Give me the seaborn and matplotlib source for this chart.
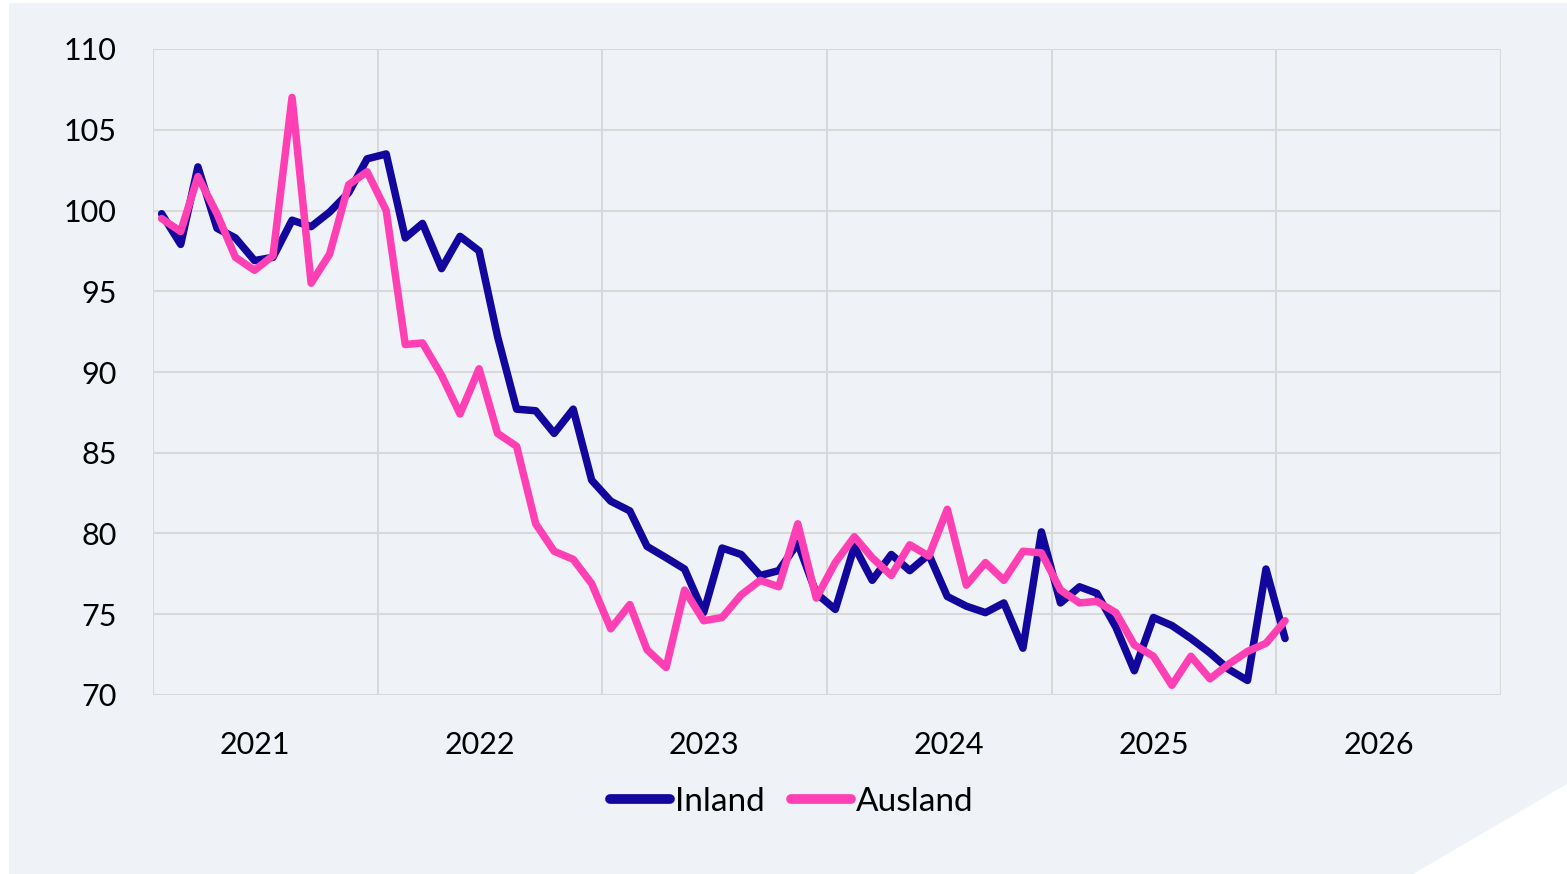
import numpy as np
import pandas as pd
import matplotlib
matplotlib.use("Agg")
import matplotlib.pyplot as plt
from matplotlib.patches import Polygon
import seaborn as sns

# ---- data ----
months = pd.date_range("2021-01-01", periods=61, freq="MS") + pd.Timedelta(days=14)
inland = [99.8, 97.9, 102.7, 98.9, 98.3, 96.9, 97.1, 99.4, 99.0, 99.9, 101.1, 103.2,
          103.5, 98.3, 99.2, 96.4, 98.4, 97.5, 92.2, 87.7, 87.6, 86.2, 87.7, 83.3,
          82.0, 81.4, 79.2, 78.5, 77.8, 75.1, 79.1, 78.7, 77.4, 77.7, 79.4, 76.3,
          75.3, 79.2, 77.1, 78.7, 77.7, 78.7, 76.1, 75.5, 75.1, 75.7, 72.9, 80.1,
          75.7, 76.7, 76.3, 74.2, 71.5, 74.8, 74.3, 73.5, 72.6, 71.6, 70.9, 77.8,
          73.5]
ausland = [99.5, 98.7, 102.1, 99.8, 97.1, 96.3, 97.2, 107.0, 95.5, 97.3, 101.6, 102.4,
           100.0, 91.7, 91.8, 89.8, 87.4, 90.2, 86.2, 85.4, 80.6, 78.9, 78.4, 76.9,
           74.1, 75.6, 72.8, 71.7, 76.5, 74.6, 74.8, 76.2, 77.1, 76.7, 80.6, 76.0,
           78.2, 79.8, 78.5, 77.4, 79.3, 78.6, 81.5, 76.8, 78.2, 77.1, 78.9, 78.8,
           76.5, 75.7, 75.8, 75.1, 73.1, 72.4, 70.6, 72.4, 71.0, 71.9, 72.7, 73.2,
           74.6]
series_names = ["Inland", "Ausland"]
year_labels = ["2021", "2022", "2023", "2024", "2025", "2026"]
y_ticks = [70, 75, 80, 85, 90, 95, 100, 105, 110]

df = pd.DataFrame({
    "Datum": list(months) * 2,
    "Wert": inland + ausland,
    "Serie": [series_names[0]] * len(inland) + [series_names[1]] * len(ausland),
})

# ---- style ----
sns.set_theme(style="white")
plt.rcParams["font.family"] = ["Lato", "DejaVu Sans"]
plt.rcParams["text.color"] = "black"

W, H = 1567, 874
fig = plt.figure(figsize=(W / 100, H / 100), dpi=100, facecolor="white")
panel = "#eff3f8"
fig.patches.append(Polygon(
    [(9 / W, 0), (9 / W, 1 - 3 / H), (1, 1 - 3 / H), (1, 1 - 784 / H), (1413 / W, 0)],
    closed=True, transform=fig.transFigure, facecolor=panel, edgecolor="none", zorder=-10))

ax = fig.add_axes([153 / W, (H - 695) / H, (1501 - 153) / W, (695 - 49) / H])
ax.set_facecolor("none")
ax.set_zorder(5)

palette = {"Inland": "#12069c", "Ausland": "#ff3fb4"}
sns.lineplot(data=df, x="Datum", y="Wert", hue="Serie", palette=palette,
             linewidth=5.4, ax=ax, legend=True,
             solid_joinstyle="round", solid_capstyle="round")

ax.set_xlim(pd.Timestamp("2021-01-01"), pd.Timestamp("2027-01-01"))
ax.set_ylim(70, 110)
ax.set_yticks(y_ticks)
ax.set_yticklabels([str(v) for v in y_ticks])

# grid at year boundaries
ax.set_xticks([pd.Timestamp(f"{y}-01-01") for y in range(2021, 2028)])
ax.set_xticklabels([])
label_pos = [pd.Timestamp(f"{y}-06-16") for y in range(2021, 2027)]
label_pos[3] = pd.Timestamp("2024-07-17")
ax.set_xticks(label_pos, minor=True)
ax.set_xticklabels(year_labels, minor=True)

ax.grid(True, which="major", color="#d9d9d9", linewidth=1.5)
ax.set_axisbelow(True)
for s in ax.spines.values():
    s.set_visible(False)
ax.tick_params(axis="both", which="both", length=0, labelsize=22, colors="black")
ax.tick_params(axis="y", pad=26)
ax.tick_params(axis="x", which="minor", pad=26)
ax.set_xlabel("")
ax.set_ylabel("")

leg = ax.legend(loc="center", bbox_to_anchor=(792 / W, 1 - 802 / H),
                bbox_transform=fig.transFigure, ncol=2, frameon=False,
                fontsize=24, handlelength=1.8, handletextpad=0.15,
                columnspacing=0.8, labelcolor="black")
for line in leg.get_lines():
    line.set_linewidth(7)
    line.set_solid_capstyle("round")

fig.savefig("out.png", dpi=100, facecolor="white")
